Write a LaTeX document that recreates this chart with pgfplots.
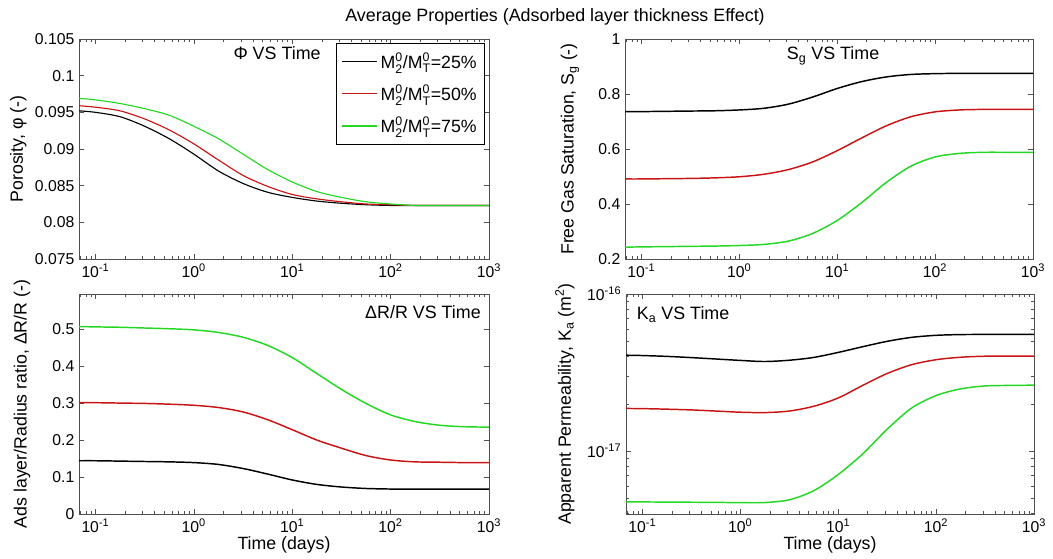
\documentclass[border=0pt]{standalone}
\usepackage{amsmath}
\usepackage{fontspec}
\setmainfont{Liberation Sans}
\usepackage{pgfplots}
\pgfplotsset{compat=1.18}
\usepackage{pgfplotstable}

\definecolor{mred}{RGB}{200,20,20}
\definecolor{mgreen}{RGB}{35,215,35}
\definecolor{axgray}{RGB}{80,80,80}
\newcommand{\fsz}{\fontsize{11.8}{14}\selectfont}
\newcommand{\lsz}{\fontsize{13.3}{16}\selectfont}
\newcommand{\tsz}{\fontsize{13.4}{16}\selectfont}
\newcommand{\Mlab}[1]{M$_{\text{2}}^{\text{0}}$/M$_{\text{T}}^{\text{0}}$=#1\%}

\pgfplotstableread{
t b r g
0.068 0.0952 0.0959 0.0969
0.1 0.0950 0.0957 0.0967
0.178 0.0944 0.0952 0.0962
0.316 0.0931 0.0941 0.0955
0.562 0.0914 0.0926 0.0946
1 0.0893 0.0907 0.0931
1.778 0.0870 0.0885 0.0914
3.162 0.0853 0.0864 0.0893
5.623 0.0841 0.0849 0.0872
10 0.0834 0.0838 0.0855
17.78 0.0829 0.0832 0.0842
31.62 0.0826 0.0828 0.0834
56.23 0.0824 0.0825 0.0828
100 0.0823 0.0824 0.0825
177.8 0.0823 0.0823 0.0823
316.2 0.0823 0.0823 0.0823
562.3 0.0823 0.0823 0.0823
1000 0.0823 0.0823 0.0823
}\phidata

\pgfplotstableread{
t b r g
0.068 0.736 0.491 0.243
0.1 0.736 0.491 0.244
0.178 0.737 0.492 0.245
0.316 0.738 0.493 0.246
0.562 0.739 0.495 0.247
1 0.742 0.499 0.249
1.778 0.748 0.508 0.253
3.162 0.763 0.525 0.265
5.623 0.789 0.553 0.293
10 0.820 0.594 0.340
17.78 0.845 0.640 0.405
31.62 0.862 0.684 0.478
56.23 0.871 0.717 0.537
100 0.874 0.735 0.571
177.8 0.875 0.742 0.584
316.2 0.875 0.744 0.588
562.3 0.875 0.744 0.588
1000 0.875 0.744 0.588
}\sgdata

\pgfplotstableread{
t b r g
0.068 0.144 0.301 0.507
0.1 0.144 0.301 0.506
0.178 0.143 0.300 0.505
0.316 0.142 0.299 0.503
0.562 0.141 0.297 0.501
1 0.139 0.294 0.498
1.778 0.134 0.288 0.491
3.162 0.123 0.276 0.478
5.623 0.108 0.255 0.456
10 0.092 0.228 0.423
17.78 0.080 0.200 0.380
31.62 0.073 0.178 0.337
56.23 0.069 0.158 0.299
100 0.0675 0.146 0.268
177.8 0.067 0.141 0.250
316.2 0.067 0.140 0.240
562.3 0.067 0.139 0.236
1000 0.067 0.139 0.235
}\drdata

\pgfplotstableread{
t b r g
0.068 4.08e-17 1.870e-17 4.75e-18
0.1 4.06e-17 1.865e-17 4.75e-18
0.178 4.01e-17 1.850e-17 4.74e-18
0.316 3.94e-17 1.830e-17 4.73e-18
0.562 3.86e-17 1.800e-17 4.72e-18
1 3.78e-17 1.770e-17 4.70e-18
1.778 3.72e-17 1.760e-17 4.71e-18
3.162 3.79e-17 1.800e-17 4.90e-18
5.623 3.95e-17 1.930e-17 5.60e-18
10 4.25e-17 2.180e-17 7.10e-18
17.78 4.62e-17 2.620e-17 9.60e-18
31.62 5.00e-17 3.120e-17 1.38e-17
56.23 5.30e-17 3.550e-17 1.88e-17
100 5.46e-17 3.820e-17 2.26e-17
177.8 5.52e-17 3.960e-17 2.49e-17
316.2 5.53e-17 4.020e-17 2.60e-17
562.3 5.53e-17 4.030e-17 2.62e-17
1000 5.53e-17 4.030e-17 2.63e-17
}\kadata

\pgfplotsset{
  every axis/.append style={
    scale only axis, anchor=south west,
    xmin=0.068, xmax=1000,
    xtick={0.1,1,10,100,1000},
    xticklabels={10\textsuperscript{-1},10\textsuperscript{0},10\textsuperscript{1},10\textsuperscript{2},10\textsuperscript{3}},
    minor xtick={0.07,0.08,0.09,0.2,0.3,0.4,0.5,0.6,0.7,0.8,0.9,2,3,4,5,6,7,8,9,20,30,40,50,60,70,80,90,200,300,400,500,600,700,800,900},
    tick align=inside, major tick length=4pt, minor tick length=2pt,
    axis line style={axgray}, every tick/.style={axgray},
    tick label style={font=\fsz},
    label style={font=\lsz},
  },
  every axis plot/.append style={line width=1.1pt},
}

\begin{document}
\begin{tikzpicture}[x=1pt,y=1pt]
\useasboundingbox (0,0) rectangle (789.75,419.25);
\node[font=\tsz] at (416.25,406.5) {Average Properties (Adsorbed layer thickness Effect)};

% top-left
\begin{semilogxaxis}[at={(59.25pt,225pt)}, width=307.5pt, height=165pt,
  ymin=0.075, ymax=0.105,
  ytick={0.075,0.08,0.085,0.09,0.095,0.1,0.105},
  yticklabels={0.075,0.08,0.085,0.09,0.095,0.1,0.105},
  ylabel={Porosity, φ (-)},
  ylabel style={at={(axis description cs:-0.148,0.5)}, anchor=center},
  legend style={at={(0.99,0.982)}, anchor=north east, draw=black, fill=white, font=\lsz, row sep=7pt, inner xsep=4pt, inner ysep=5pt},
  legend cell align=left,
  legend image code/.code={\draw[#1, line width=1.2pt] (0pt,0pt) -- (26pt,0pt);},
  every axis plot/.append style={line width=0.85pt},
]
\addplot[black, smooth] table[x=t, y=b] {\phidata};
\addlegendentry{\Mlab{25}}
\addplot[mred, smooth] table[x=t, y=r] {\phidata};
\addlegendentry{\Mlab{50}}
\addplot[mgreen, smooth] table[x=t, y=g] {\phidata};
\addlegendentry{\Mlab{75}}
\node[font=\tsz] at (rel axis cs:0.483,0.936) {Φ VS Time};
\end{semilogxaxis}

% top-right
\begin{semilogxaxis}[at={(468.75pt,225pt)}, width=306pt, height=165pt,
  ymin=0.2, ymax=1,
  ytick={0.2,0.4,0.6,0.8,1},
  yticklabels={0.2,0.4,0.6,0.8,1},
  ylabel={Free Gas Saturation, S\textsubscript{g} (-)},
  ylabel style={at={(axis description cs:-0.135,0.5)}, anchor=center},
]
\addplot[black, smooth] table[x=t, y=b] {\sgdata};
\addplot[mred, smooth] table[x=t, y=r] {\sgdata};
\addplot[mgreen, smooth] table[x=t, y=g] {\sgdata};
\node[font=\tsz] at (rel axis cs:0.51,0.925) {S\textsubscript{g} VS Time};
\end{semilogxaxis}

% bottom-left
\begin{semilogxaxis}[at={(59.25pt,33.75pt)}, width=307.5pt, height=165pt,
  ymin=0, ymax=0.595,
  ytick={0,0.1,0.2,0.3,0.4,0.5},
  yticklabels={0,0.1,0.2,0.3,0.4,0.5},
  xlabel={Time (days)},
  xlabel style={at={(axis description cs:0.5,0)}, anchor=center, yshift=-23pt},
  ylabel={Ads layer/Radius ratio, ΔR/R (-)},
  ylabel style={at={(axis description cs:-0.139,0.5)}, anchor=center},
]
\addplot[black, smooth] table[x=t, y=b] {\drdata};
\addplot[mred, smooth] table[x=t, y=r] {\drdata};
\addplot[mgreen, smooth] table[x=t, y=g] {\drdata};
\node[font=\tsz] at (rel axis cs:0.839,0.918) {ΔR/R VS Time};
\end{semilogxaxis}

% bottom-right
\begin{loglogaxis}[at={(469.5pt,33.75pt)}, width=306pt, height=165pt,
  ymin=3.98e-18, ymax=1e-16,
  ytick={1e-17,1e-16},
  yticklabels={10\textsuperscript{-17},10\textsuperscript{-16}},
  minor ytick={4e-18,5e-18,6e-18,7e-18,8e-18,9e-18,2e-17,3e-17,4e-17,5e-17,6e-17,7e-17,8e-17,9e-17},
  xlabel={Time (days)},
  xlabel style={at={(axis description cs:0.5,0)}, anchor=center, yshift=-23pt},
  ylabel={Apparent Permeability, K\textsubscript{a} (m\textsuperscript{2})},
  ylabel style={at={(axis description cs:-0.15,0.5)}, anchor=center},
]
\addplot[black, smooth] table[x=t, y=b] {\kadata};
\addplot[mred, smooth] table[x=t, y=r] {\kadata};
\addplot[mgreen, smooth] table[x=t, y=g] {\kadata};
\node[font=\tsz] at (rel axis cs:0.14,0.905) {K\textsubscript{a} VS Time};
\end{loglogaxis}
\end{tikzpicture}
\end{document}
